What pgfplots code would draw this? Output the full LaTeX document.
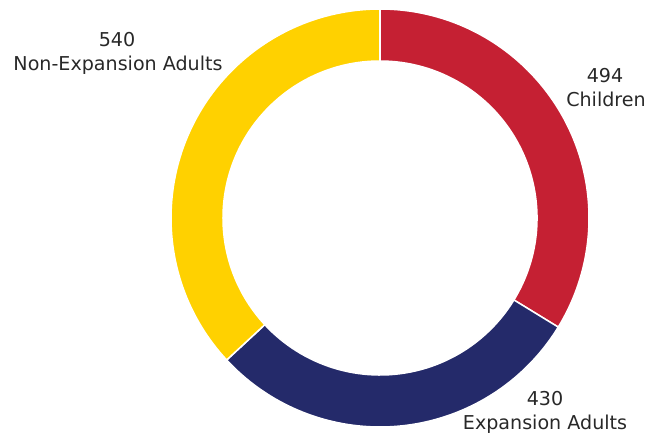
\documentclass[border=0pt]{standalone}
\usepackage{pgfplots}
\usepackage{pgfplotstable}
\pgfplotsset{compat=1.18}
\usepackage{fontspec}
\setmainfont{DejaVu Sans}

\definecolor{kidsred}{RGB}{197,32,51}
\definecolor{expnavy}{RGB}{36,42,106}
\definecolor{nonexpyellow}{RGB}{255,209,0}
\definecolor{labelgray}{RGB}{40,40,40}

\pgfplotstableread{
group        value
Children     494
Expansion    430
NonExpansion 540
}\pietable

\begin{document}
\begin{tikzpicture}
    % slice angles, clockwise from the top
    \pgfplotstablegetelem{0}{value}\of\pietable \let\va\pgfplotsretval
    \pgfplotstablegetelem{1}{value}\of\pietable \let\vb\pgfplotsretval
    \pgfplotstablegetelem{2}{value}\of\pietable \let\vc\pgfplotsretval
    \pgfmathsetmacro\total{\va+\vb+\vc}
    \pgfmathsetmacro\angA{90}
    \pgfmathsetmacro\angB{\angA-360*(\va/\total)}
    \pgfmathsetmacro\angC{\angB-360*(\vb/\total)}
    \pgfmathsetmacro\angD{\angC-360*(\vc/\total)}
    \def\cx{380}
    \def\cy{216}
    \def\ro{209}
    \def\ri{157}

    \begin{axis}[
        x = 0.03cm, y = 0.03cm,
        xmin = 0, xmax = 651,
        ymin = 0, ymax = 434,
        hide axis,
        clip = false
    ]
        \path (rel axis cs:0,0) rectangle (rel axis cs:1,1);

        \foreach \a/\b/\col in {\angA/\angB/kidsred, \angB/\angC/expnavy, \angC/\angD/nonexpyellow} {
            \edef\slice{\noexpand\fill[\col, draw=white, line width=1.3pt]
                (axis cs:{\cx+\ro*cos(\a)},{\cy+\ro*sin(\a)})
                arc[start angle=\a, end angle=\b, radius=\ro]
                -- (axis cs:{\cx+\ri*cos(\b)},{\cy+\ri*sin(\b)})
                arc[start angle=\b, end angle=\a, radius=\ri]
                -- cycle;}
            \slice
        }

        \begin{scope}[every node/.style={anchor=base, text=labelgray,
                font=\fontsize{16.3}{20}\selectfont, inner sep=0pt}]
            \node at (axis cs:117,388) {540};
            \node at (axis cs:118,364) {Non-Expansion Adults};
            \node at (axis cs:605,352) {494};
            \node at (axis cs:606,328) {Children};
            \node at (axis cs:545,29) {430};
            \node at (axis cs:545,5) {Expansion Adults};
        \end{scope}
    \end{axis}
\end{tikzpicture}
\end{document}
